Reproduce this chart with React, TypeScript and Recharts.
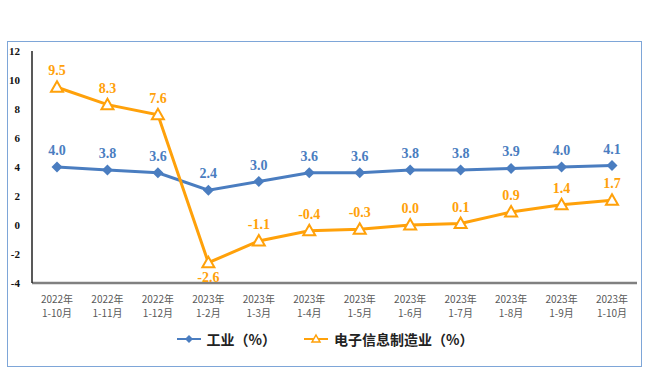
import { LineChart, Line, XAxis, YAxis, LabelList } from 'recharts'

const periods = [
  '2022年|1-10月',
  '2022年|1-11月',
  '2022年|1-12月',
  '2023年|1-2月',
  '2023年|1-3月',
  '2023年|1-4月',
  '2023年|1-5月',
  '2023年|1-6月',
  '2023年|1-7月',
  '2023年|1-8月',
  '2023年|1-9月',
  '2023年|1-10月',
]
const industry = [4.0, 3.8, 3.6, 2.4, 3.0, 3.6, 3.6, 3.8, 3.8, 3.9, 4.0, 4.1]
const electronics = [9.5, 8.3, 7.6, -2.6, -1.1, -0.4, -0.3, 0.0, 0.1, 0.9, 1.4, 1.7]
const yTicks = [-4, -2, 0, 2, 4, 6, 8, 10, 12]

const blue = '#4a7dc0'
const orange = '#ffa10a'
const serif = '"Liberation Serif", "DejaVu Serif", serif'
const cjk = '"Noto Sans CJK SC", sans-serif'

const data = periods.map((p, i) => ({
  period: p,
  industry: industry[i],
  electronics: electronics[i],
}))

const Diamond = (props: any) => {
  const { cx, cy } = props
  if (cx == null || cy == null) return null
  return <path d={`M${cx},${cy - 5.5}L${cx + 5.5},${cy}L${cx},${cy + 5.5}L${cx - 5.5},${cy}Z`} fill={blue} />
}

const Triangle = (props: any) => {
  const { cx, cy } = props
  if (cx == null || cy == null) return null
  return (
    <path
      d={`M${cx},${cy - 6}L${cx + 6},${cy + 4.5}L${cx - 6},${cy + 4.5}Z`}
      fill='#fff'
      stroke={orange}
      strokeWidth={2}
    />
  )
}

const XTick = (props: any) => {
  const { x, y, payload } = props
  const [a, b] = String(payload.value).split('|')
  return (
    <text x={x} y={y} textAnchor='middle' fontSize={10} fill='#595959' style={{ fontFamily: cjk }}>
      <tspan x={x} dy={12}>{a}</tspan>
      <tspan x={x} dy={14}>{b}</tspan>
    </text>
  )
}

const YTick = (props: any) => {
  const { x, y, payload } = props
  return (
    <text
      x={x}
      y={y}
      dy={4}
      textAnchor='end'
      fontSize={11}
      fontWeight='bold'
      fill='#111'
      style={{ fontFamily: serif }}
    >
      {payload.value}
    </text>
  )
}

const makeLabel = (color: string, below?: (v: number) => boolean) => (props: any) => {
  const { x, y, value } = props
  const under = below ? below(value) : false
  return (
    <text
      x={x}
      y={under ? y + 19 : y - 12}
      textAnchor='middle'
      fontSize={14}
      fontWeight='bold'
      fill={color}
      style={{ fontFamily: serif }}
    >
      {Number(value).toFixed(1)}
    </text>
  )
}

const LegendBox = () => (
  <div
    style={{
      position: 'absolute',
      top: 329,
      left: 0,
      width: 650,
      display: 'flex',
      justifyContent: 'center',
      alignItems: 'center',
      fontFamily: cjk,
      fontWeight: 'bold',
      fontSize: 14,
      color: '#222',
    }}
  >
    <svg width={24} height={14} style={{ marginRight: 6 }}>
      <line x1={0} y1={7} x2={24} y2={7} stroke={blue} strokeWidth={2} />
      <path d='M12,3L16,7L12,11L8,7Z' fill={blue} />
    </svg>
    <span style={{ marginRight: 28 }}>工业（%）</span>
    <svg width={24} height={14} style={{ marginRight: 6 }}>
      <line x1={0} y1={7} x2={24} y2={7} stroke={orange} strokeWidth={2} />
      <path d='M12,3L16,10L8,10Z' fill='#fff' stroke={orange} strokeWidth={1.5} />
    </svg>
    <span>电子信息制造业（%）</span>
  </div>
)

export default function App() {
  return (
    <div style={{ position: 'absolute', left: 0, top: 0, width: 650, height: 391, background: '#fff' }}>
      <div
        style={{
          position: 'absolute',
          left: 7,
          top: 41,
          width: 633,
          height: 324,
          border: '1.5px solid #7ea6d8',
        }}
      />
      <LineChart
        width={650}
        height={391}
        data={data}
        margin={{ top: 51, right: 13, left: 0, bottom: 68 }}
      >
        <XAxis
          dataKey='period'
          tick={<XTick />}
          tickLine={false}
          axisLine={{ stroke: '#808080', strokeWidth: 2.5 }}
          height={40}
          interval={0}
          padding={{ left: 25, right: 25 }}
        />
        <YAxis
          domain={[-4, 12]}
          ticks={yTicks}
          width={32}
          tickLine={false}
          axisLine={{ stroke: '#222', strokeWidth: 1.5 }}
          tick={<YTick />}
          tickMargin={6}
        />
        <Line
          dataKey='industry'
          stroke={blue}
          strokeWidth={3}
          dot={<Diamond />}
          activeDot={false}
          isAnimationActive={false}
        >
          <LabelList dataKey='industry' content={makeLabel(blue)} />
        </Line>
        <Line
          dataKey='electronics'
          stroke={orange}
          strokeWidth={3}
          dot={<Triangle />}
          activeDot={false}
          isAnimationActive={false}
        >
          <LabelList dataKey='electronics' content={makeLabel(orange, (v) => v < -2)} />
        </Line>
      </LineChart>
      <LegendBox />
    </div>
  )
}
